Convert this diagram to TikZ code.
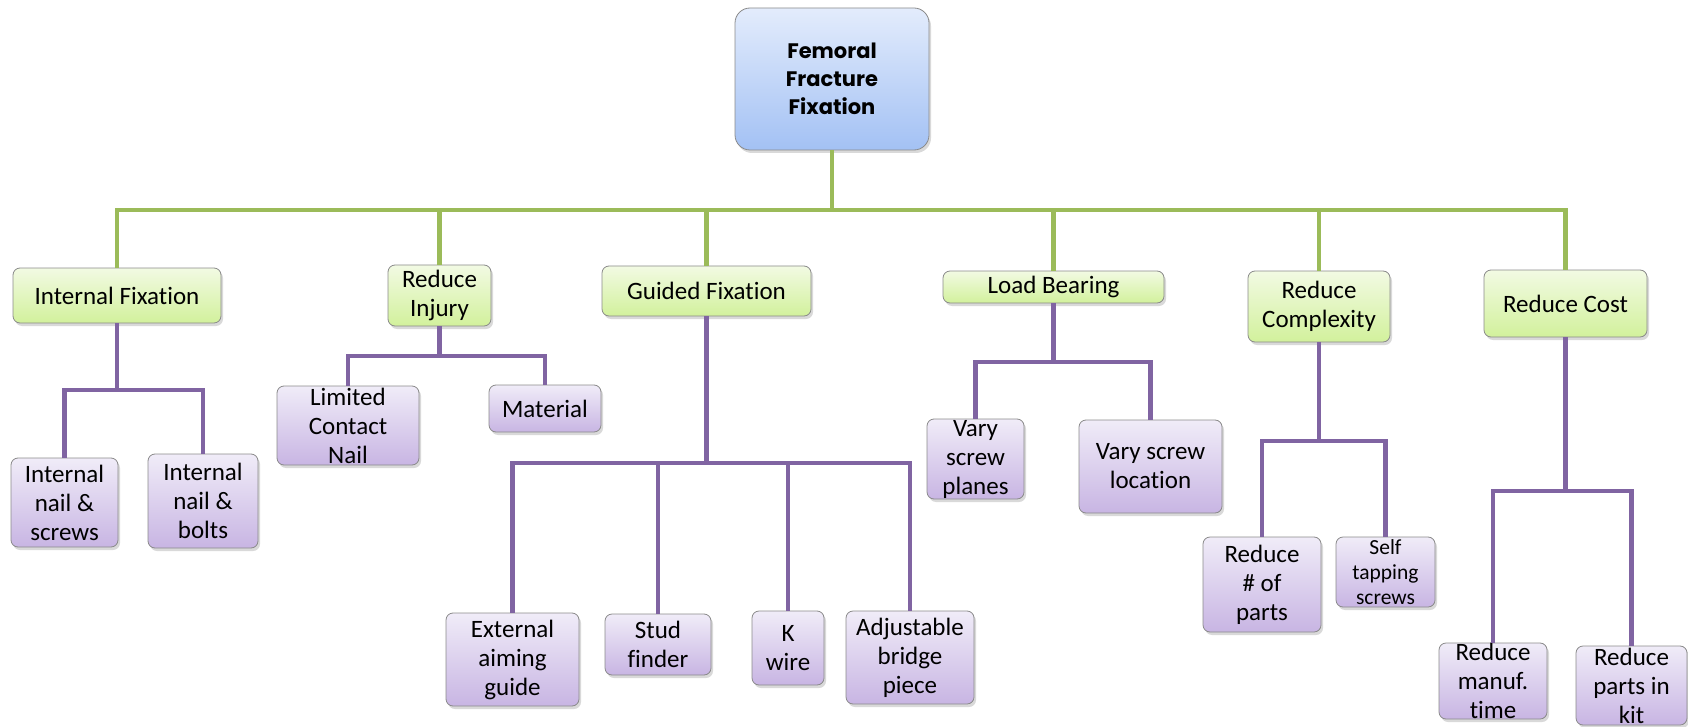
\documentclass[tikz,border=0pt]{standalone}
\usepackage{fontspec}
\setmainfont{Carlito}[Ligatures=NoCommon]
\newfontfamily\rootfont{Poppins}
\usetikzlibrary{shadows}
\definecolor{rtop}{HTML}{E3ECFC}
\definecolor{rbot}{HTML}{A3C1F4}
\definecolor{gtop}{HTML}{F2FAE3}
\definecolor{gbot}{HTML}{D2F19C}
\definecolor{ptop}{HTML}{F0ECF8}
\definecolor{pbot}{HTML}{C8B5E3}
\definecolor{edge}{HTML}{8A8A8A}
\definecolor{gline}{HTML}{9BBB59}
\definecolor{pline}{HTML}{8064A2}

% box from corner (x1,y1) to (x2,y2), pixel-style coordinates
\newcommand\bx[7]{\node[#6, minimum width={#4-#2}, minimum height={#5-#3}] (#1) at ({(#2+#4)/2},{(#3+#5)/2}) {#7};}

\begin{document}
\begin{tikzpicture}[x=1pt,y=-1pt,
  basebox/.style={draw=edge, line width=0.8pt, rounded corners=7pt, inner sep=0pt,
    align=center, font=\fontsize{25}{29}\selectfont,
    drop shadow={shadow xshift=2pt, shadow yshift=-3pt, opacity=0.3}},
  rbox/.style={basebox, rounded corners=15pt, top color=rtop, bottom color=rbot,
    font=\rootfont\bfseries\fontsize{21}{28}\selectfont},
  gbox/.style={basebox, top color=gtop, bottom color=gbot},
  pbox/.style={basebox, top color=ptop, bottom color=pbot},
  small/.style={font=\fontsize{21.5}{25}\selectfont},
  gl/.style={draw=gline, line width=4.5pt},
  pl/.style={draw=pline, line width=4.5pt}]
\useasboundingbox (0,0) rectangle (1688,727);

% root
\bx{root}{735}{8}{929}{150}{rbox}{Femoral\\Fracture\\Fixation}

% first level
\bx{intfix}{13}{268}{221}{323}{gbox}{Internal Fixation}
\bx{redinj}{388}{265}{491}{326}{gbox}{Reduce\\Injury}
\bx{guided}{602}{266}{811}{316}{gbox}{Guided Fixation}
\bx{load}{943}{271}{1164}{303}{gbox}{Load Bearing}
\bx{redcx}{1248}{271}{1390}{342}{gbox}{Reduce\\Complexity}
\bx{redcost}{1484}{270}{1647}{337}{gbox}{Reduce Cost}

% second level
\bx{nscrews}{11}{458}{118}{547}{pbox}{Internal\\nail \&\\screws}
\bx{nbolts}{148}{454}{258}{548}{pbox}{Internal\\nail \&\\bolts}
\bx{lcn}{277}{386}{419}{465}{pbox}{Limited\\Contact\\Nail}
\bx{mat}{489}{385}{601}{432}{pbox}{Material}
\bx{ext}{446}{613}{579}{706}{pbox}{External\\aiming\\guide}
\bx{stud}{605}{614}{711}{675}{pbox}{Stud\\finder}
\bx{kwire}{752}{611}{824}{685}{pbox}{K\\wire}
\bx{adj}{846}{611}{974}{704}{pbox}{Adjustable\\bridge\\piece}
\bx{vplanes}{927}{419}{1024}{499}{pbox}{Vary\\screw\\planes}
\bx{vloc}{1079}{420}{1222}{513}{pbox}{Vary screw\\location}
\bx{nparts}{1203}{537}{1321}{632}{pbox}{Reduce\\\# of\\parts}
\bx{selftap}{1336}{537}{1435}{607}{pbox,small}{Self\\tapping\\screws}
\bx{manuf}{1439}{643}{1547}{719}{pbox}{Reduce\\manuf.\\time}
\bx{kit}{1576}{646}{1687}{725}{pbox}{Reduce\\parts in\\kit}

% green connectors from the root
\coordinate (gj) at (root.south |- 0,210);
\draw[gl] (root.south) -- (gj);
\foreach \c in {intfix,redinj,guided,load,redcx,redcost}
  \draw[gl] (gj) -| (\c.north);

% purple connectors to the second level
\coordinate (jint) at (intfix.south |- 0,390);
\coordinate (jinj) at (redinj.south |- 0,356);
\coordinate (jgd) at (guided.south |- 0,463);
\coordinate (jld) at (load.south |- 0,362);
\coordinate (jcx) at (redcx.south |- 0,441);
\coordinate (jcost) at (redcost.south |- 0,491);

\draw[pl] (intfix.south) -- (jint);
\foreach \c in {nscrews,nbolts} \draw[pl] (jint) -| (\c.north);
\draw[pl] (redinj.south) -- (jinj);
\foreach \c in {lcn,mat} \draw[pl] (jinj) -| (\c.north);
\draw[pl] (guided.south) -- (jgd);
\foreach \c in {ext,stud,kwire,adj} \draw[pl] (jgd) -| (\c.north);
\draw[pl] (load.south) -- (jld);
\foreach \c in {vplanes,vloc} \draw[pl] (jld) -| (\c.north);
\draw[pl] (redcx.south) -- (jcx);
\foreach \c in {nparts,selftap} \draw[pl] (jcx) -| (\c.north);
\draw[pl] (redcost.south) -- (jcost);
\foreach \c in {manuf,kit} \draw[pl] (jcost) -| (\c.north);
\end{tikzpicture}
\end{document}
